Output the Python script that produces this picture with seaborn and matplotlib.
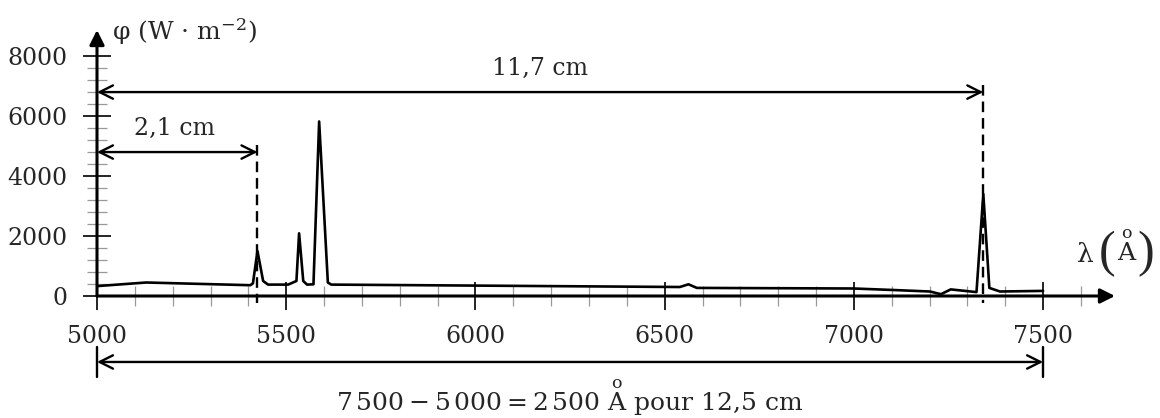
import matplotlib
matplotlib.use("Agg")
import matplotlib.pyplot as plt
import seaborn as sns
import numpy as np

# spectrum (wavelength in Angstrom, flux in W/m2)
wavelength = [5000, 5130, 5405, 5412, 5424, 5439, 5452, 5505, 5527, 5534, 5545,
              5555, 5572, 5587, 5610, 5619, 6540, 6563, 6585, 7000, 7104, 7201,
              7230, 7256, 7324, 7342, 7358, 7386, 7500]
flux = [330, 450, 360, 420, 1500, 500, 380, 380, 500, 2090, 500,
        380, 390, 5820, 450, 380, 300, 390, 270, 250, 200, 150,
        60, 220, 130, 3400, 270, 150, 170]

x_major = [5000, 5500, 6000, 6500, 7000, 7500]
y_major = [0, 2000, 4000, 6000, 8000]

# measured distances
line_a = 5424      # first marked line
line_b = 7342      # second marked line
y_arrow_a = 4800
y_arrow_b = 6800
y_arrow_scale = -2200

sns.set_theme(style="ticks")
plt.rcParams["font.family"] = ["DejaVu Serif"]
plt.rcParams["mathtext.fontset"] = "dejavuserif"

fig = plt.figure(figsize=(11.6, 4.18), dpi=100)
ax = fig.add_axes([97 / 1160, 122 / 418, 1018 / 1160, 266 / 418])

sns.lineplot(x=wavelength, y=flux, color="black", lw=1.9, ax=ax)

ax.set_xlim(5000, 7690)
ax.set_ylim(0, 8870)
for s in ax.spines.values():
    s.set_visible(False)

ax.set_xticks(x_major)
ax.set_xticks(np.arange(5000, 7601, 100), minor=True)
ax.set_yticks(y_major)
ax.set_yticks(np.arange(0, 8001, 400), minor=True)
ax.tick_params(which="major", direction="inout", length=20, width=1.2,
               color="black", labelsize=17, pad=11)
ax.tick_params(which="minor", direction="inout", length=15, width=0.9,
               color="#999999")

# axes with arrow heads
arrow_axis = dict(arrowstyle="-|>", lw=2.2, color="black",
                  mutation_scale=22, shrinkA=0, shrinkB=0)
ax.annotate("", xy=(1, 0), xytext=(0, 0), xycoords="axes fraction",
            arrowprops=arrow_axis, annotation_clip=False)
ax.annotate("", xy=(0, 1), xytext=(0, 0), xycoords="axes fraction",
            arrowprops=arrow_axis, annotation_clip=False)

# dashed markers
ax.plot([line_a, line_a], [y_arrow_a + 250, -250], color="black", lw=1.7,
        dashes=(4.5, 2.5), clip_on=False)
ax.plot([line_b, line_b], [y_arrow_b + 250, -250], color="black", lw=1.7,
        dashes=(4.5, 2.5), clip_on=False)

dbl = dict(arrowstyle="<->", lw=1.7, color="black", mutation_scale=24,
           shrinkA=0, shrinkB=0)
ax.annotate("", xy=(line_a, y_arrow_a), xytext=(5000, y_arrow_a),
            arrowprops=dbl, annotation_clip=False)
ax.annotate("", xy=(line_b, y_arrow_b), xytext=(5000, y_arrow_b),
            arrowprops=dbl, annotation_clip=False)
ax.annotate("", xy=(7500, y_arrow_scale), xytext=(5000, y_arrow_scale),
            arrowprops=dbl, annotation_clip=False)
ax.plot([5000, 5000], [-1700, -2700], color="black", lw=1.7, clip_on=False)
ax.plot([7500, 7500], [-1700, -2700], color="black", lw=1.7, clip_on=False)

ax.text(5206, 5600, "2,1 cm", ha="center", va="center", fontsize=17)
ax.text(6170, 7600, "11,7 cm", ha="center", va="center", fontsize=17)
ax.text(6250, -3400,
        r"$7\,500 - 5\,000 = 2\,500\ \overset{\mathrm{o}}{\mathrm{A}}$ pour 12,5 cm",
        ha="center", va="center", fontsize=18, clip_on=False)

ax.text(5040, 8800, "φ (W · m$^{-2}$)", ha="left", va="center",
        fontsize=18, clip_on=False)

# x-axis label: lambda (Angstrom) with tall parentheses
ax.text(7611, 1370, "λ", ha="center", va="center", fontsize=19, clip_on=False)
ax.text(7668, 1420, "(", ha="center", va="center", fontsize=36,
        family="Liberation Serif", clip_on=False)
ax.text(7722, 1600, r"$\overset{\mathrm{o}}{\mathrm{A}}$", ha="center",
        va="center", fontsize=18, clip_on=False)
ax.text(7772, 1420, ")", ha="center", va="center", fontsize=36,
        family="Liberation Serif", clip_on=False)

ax.set_xlabel("")
ax.set_ylabel("")
fig.savefig("out.png", dpi=100)
